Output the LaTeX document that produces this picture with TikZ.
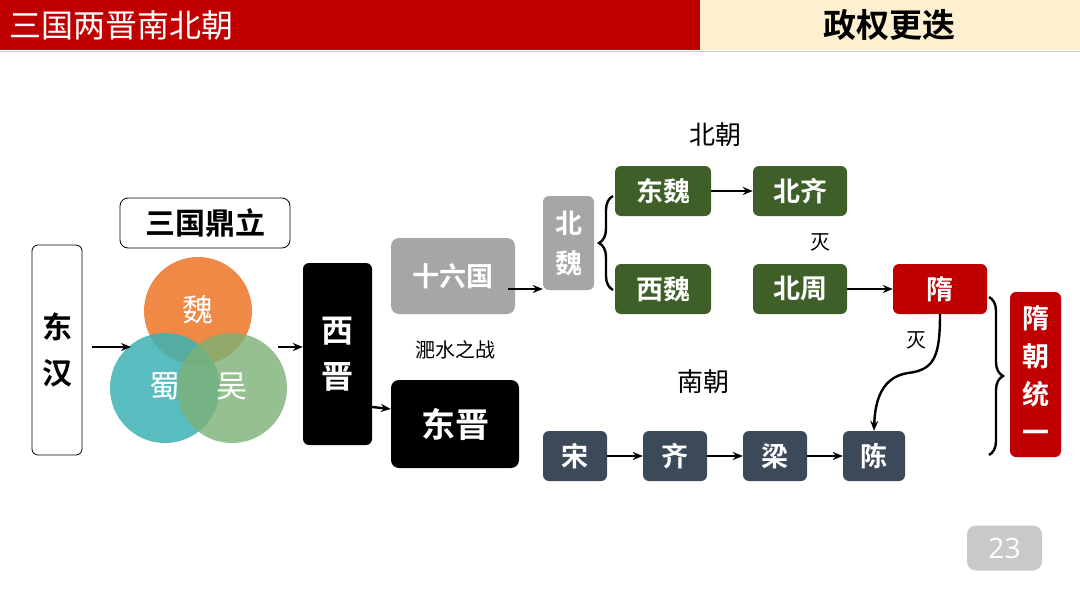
\documentclass[tikz,border=0pt]{standalone}
\usepackage{fontspec}
\newfontfamily\cjk{Noto Sans CJK SC}[BoldFont={Noto Sans CJK SC Bold}]
\usetikzlibrary{arrows.meta,decorations.pathreplacing}
\definecolor{hdred}{HTML}{C00000}
\definecolor{cream}{HTML}{FDF0D0}
\definecolor{grayb}{HTML}{A6A6A6}
\definecolor{greenb}{HTML}{3F5F28}
\definecolor{slateb}{HTML}{3C4959}
\definecolor{suired}{HTML}{C00000}
\definecolor{weiorange}{HTML}{EE7D31}
\definecolor{shuteal}{HTML}{3CB1B3}
\definecolor{wugreen}{HTML}{7CB176}
\definecolor{pagegray}{HTML}{C9C9C9}
\tikzset{
  box/.style={rounded corners=6pt, inner sep=0pt, text=white, align=center,
    font=\cjk\bfseries\fontsize{27}{31}\selectfont},
  arr/.style={line width=2.4pt, -{Stealth[length=10pt,width=8pt]}},
  lbl/.style={font=\cjk\fontsize{20}{22}\selectfont, inner sep=0pt},
  brc/.style={line width=2.4pt, decorate, decoration={brace, amplitude=14pt}},
  circtxt/.style={text=white, font=\cjk\fontsize{31}{33}\selectfont, inner sep=0pt},
}
\begin{document}
\begin{tikzpicture}[x=1pt,y=-1pt]
\useasboundingbox (0,0) rectangle (1080,608);
\fill[white] (0,0) rectangle (1080,608);
% header
\fill[hdred] (0,0) rectangle (700,50);
\fill[cream] (700,0) rectangle (1080,50);
\draw[gray!40, line width=1pt] (0,51) -- (1080,51);
\node[anchor=west, text=white, font=\cjk\fontsize{32}{34}\selectfont, inner sep=0pt] (title) at (9,25) {三国两晋南北朝};
\node[font=\cjk\bfseries\fontsize{33}{35}\selectfont, inner sep=0pt] (topic) at (889,25) {政权更迭};

% Donghan
\node[draw=black, line width=0.8pt, rounded corners=6pt, minimum width=50pt, minimum height=210pt, inner sep=0pt,
  align=center, font=\cjk\bfseries\fontsize{30}{46}\selectfont] (dh) at (57,350) {东\\汉};
\node[draw=black, line width=0.8pt, rounded corners=8pt, minimum width=170pt, minimum height=50pt, inner sep=0pt,
  font=\cjk\bfseries\fontsize{30}{32}\selectfont] (sg) at (205,223) {三国鼎立};

% circles
\fill[weiorange, opacity=0.9] (198,311) circle (54);
\fill[shuteal, opacity=0.85] (165,388) circle (55);
\fill[wugreen, opacity=0.8] (232,388) circle (55);
\node[circtxt] (wei) at (198,310) {魏};
\node[circtxt] (shu) at (165,386) {蜀};
\node[circtxt] (wu) at (232,386) {吴};
\coordinate (cl) at (131,347);
\coordinate (cr) at (278,347);
\coordinate (dhe) at (92,347);

% Jin
\node[box, fill=black, minimum width=69pt, minimum height=182pt, font=\cjk\bfseries\fontsize{32}{46}\selectfont] (xj) at (337.5,354) {西\\晋};
\node[box, fill=black, rounded corners=8pt, minimum width=128pt, minimum height=88pt, font=\cjk\bfseries\fontsize{34}{36}\selectfont] (dj) at (455,424) {东晋};
\node[lbl] (fs) at (455,350) {淝水之战};
\node[box, fill=grayb, rounded corners=8pt, minimum width=124pt, minimum height=76pt] (sl) at (453,276) {十六国};
\node[box, fill=grayb, minimum width=51pt, minimum height=94pt, font=\cjk\bfseries\fontsize{27}{40}\selectfont] (bw) at (568.5,243) {北\\魏};

% North
\node[lbl, font=\cjk\fontsize{26}{28}\selectfont] (bc) at (715,135) {北朝};
\node[box, fill=greenb, minimum width=96pt, minimum height=50pt] (dw) at (663,191) {东魏};
\node[box, fill=greenb, minimum width=96pt, minimum height=50pt] (xw) at (663,289) {西魏};
\node[box, fill=greenb, minimum width=94pt, minimum height=50pt] (bq) at (800,191) {北齐};
\node[box, fill=greenb, minimum width=94pt, minimum height=50pt] (bz) at (800,289) {北周};
\node[lbl] (mie1) at (820,242) {灭};

% Sui
\node[box, fill=suired, minimum width=94pt, minimum height=50pt] (sui) at (940,289) {隋};
\node[box, fill=suired, minimum width=51pt, minimum height=165pt, font=\cjk\bfseries\fontsize{27}{38}\selectfont] (sty) at (1035.5,374.5) {隋\\朝\\统\\一};
\node[lbl] (mie2) at (916,340) {灭};

% South
\node[lbl, font=\cjk\fontsize{26}{28}\selectfont] (nc) at (703,382) {南朝};
\node[box, fill=slateb, minimum width=64pt, minimum height=50pt] (song) at (575,456) {宋};
\node[box, fill=slateb, minimum width=64pt, minimum height=50pt] (qi) at (675,456) {齐};
\node[box, fill=slateb, minimum width=64pt, minimum height=50pt] (liang) at (775,456) {梁};
\node[box, fill=slateb, minimum width=62pt, minimum height=50pt] (chen) at (874,456) {陈};

% page number
\node[fill=pagegray, rounded corners=9pt, minimum width=75pt, minimum height=45pt, inner sep=0pt,
  text=white, font=\fontspec{Open Sans}\fontsize{28}{30}\selectfont] (pg) at (1004.5,548) {23};

% connectors
\draw[arr] (dhe) -- (cl);
\draw[arr] (cr) -- (xj.west |- cr);
\draw[arr] (xj.east |- 0,407) -- (dj.west |- 0,409);
\draw[arr] ([xshift=-7pt]sl.east |- 0,289) -- (bw.west |- 0,289);
\draw[arr] (dw) -- (bq);
\draw[arr] (bz) -- (sui);
\draw[arr] (song) -- (qi);
\draw[arr] (qi) -- (liang);
\draw[arr] (liang) -- (chen);
\draw[arr] (sui.south) .. controls (940,355) and (935,370) .. (908,373) .. controls (882,377) and (875,400) .. (chen.north);
% braces
\draw[brc] (613,290) -- (613,196);
\draw[brc] (989,297) -- (989,455);
\end{tikzpicture}
\end{document}
